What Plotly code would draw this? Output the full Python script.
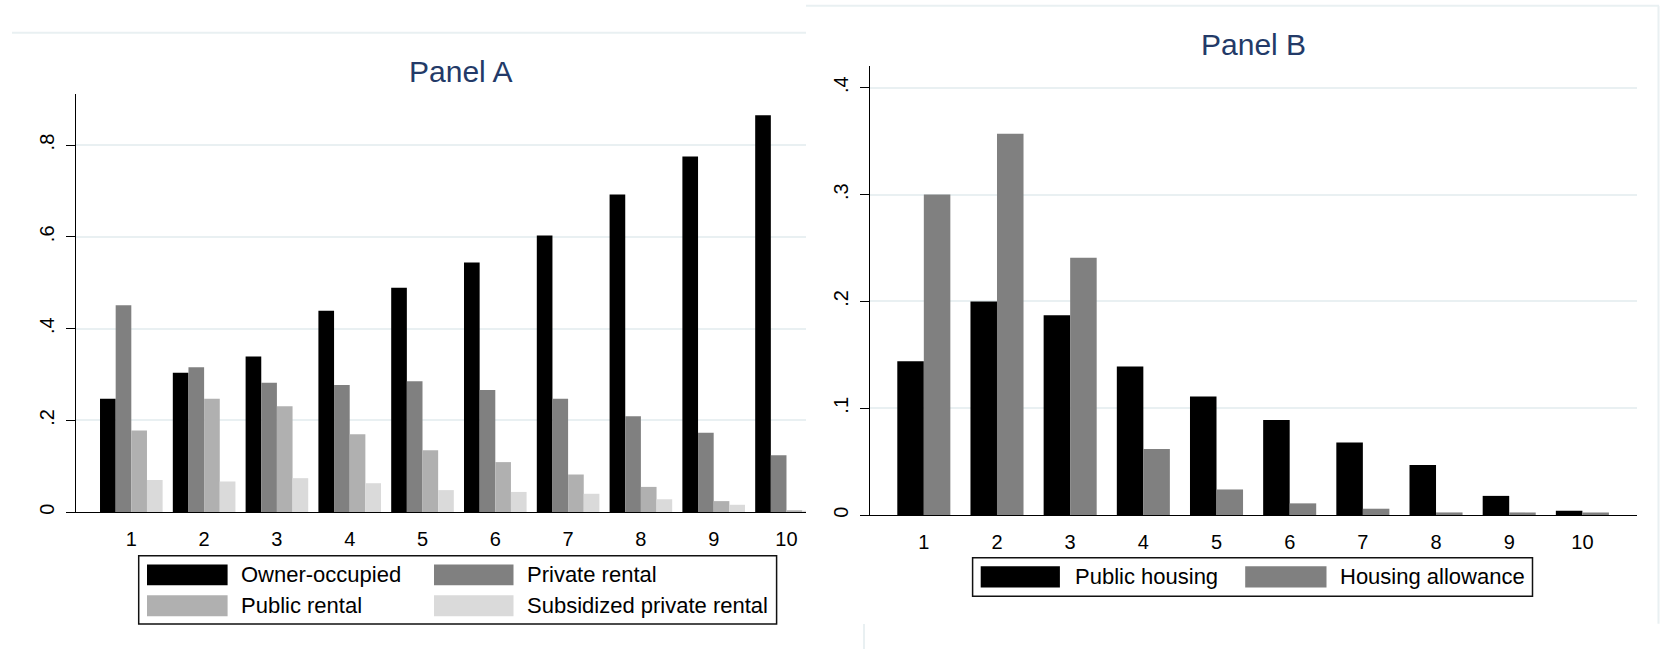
import plotly.graph_objects as go

# ---------------- data ----------------
deciles = [1, 2, 3, 4, 5, 6, 7, 8, 9, 10]
tick_labels = ["1", "2", "3", "4", "5", "6", "7", "8", "9", "10"]

owner_occupied = [0.247, 0.304, 0.339, 0.439, 0.489, 0.544, 0.603, 0.692, 0.775, 0.865]
private_rental = [0.451, 0.316, 0.282, 0.277, 0.285, 0.266, 0.247, 0.209, 0.173, 0.124]
public_rental = [0.178, 0.247, 0.231, 0.170, 0.135, 0.109, 0.082, 0.055, 0.024, 0.004]
subsidized_private = [0.070, 0.067, 0.074, 0.063, 0.048, 0.044, 0.040, 0.028, 0.016, 0.002]

public_housing = [0.144, 0.200, 0.187, 0.139, 0.111, 0.089, 0.068, 0.047, 0.018, 0.004]
housing_allowance = [0.300, 0.357, 0.241, 0.062, 0.024, 0.011, 0.006, 0.0025, 0.0025, 0.0025]

names_a = ["Owner-occupied", "Private rental", "Public rental", "Subsidized private rental"]
names_b = ["Public housing", "Housing allowance"]
ticks_a = [0, 0.2, 0.4, 0.6, 0.8]
ticktext_a = ["0", ".2", ".4", ".6", ".8"]
ticks_b = [0, 0.1, 0.2, 0.3, 0.4]
ticktext_b = ["0", ".1", ".2", ".3", ".4"]

# ---------------- style ----------------
W, H = 1660, 652
colors_a = ["#000000", "#808080", "#b0b0b0", "#dadada"]
colors_b = ["#000000", "#808080"]
GRID = "#e9f0f2"
TITLE_C = "#233a68"
FONT = "Liberation Sans, Arial, sans-serif"


def px_x(p):
    return p / W


def px_y(p):
    return (H - p) / H


fig = go.Figure()

series_a = [owner_occupied, private_rental, public_rental, subsidized_private]
wa = 0.215
for i, (nm, vals, c) in enumerate(zip(names_a, series_a, colors_a)):
    fig.add_trace(go.Bar(x=deciles, y=vals, name=nm, marker_color=c,
                         marker_line_width=0, width=wa, offset=-2 * wa + i * wa,
                         xaxis="x", yaxis="y", showlegend=False))

series_b = [public_housing, housing_allowance]
wb = 0.3625
for i, (nm, vals, c) in enumerate(zip(names_b, series_b, colors_b)):
    fig.add_trace(go.Bar(x=deciles, y=vals, name=nm, marker_color=c,
                         marker_line_width=0, width=wb, offset=-wb + i * wb,
                         xaxis="x2", yaxis="y2", showlegend=False))

axis_common_x = dict(tickmode="array", tickvals=deciles, ticktext=tick_labels,
                     showgrid=False, zeroline=False, showline=True, linecolor="#000",
                     linewidth=1, ticks="", ticklabelstandoff=9,
                     tickfont=dict(size=20, color="#000", family=FONT),
                     fixedrange=True)
axis_common_y = dict(showgrid=True, gridcolor=GRID, gridwidth=1.5, zeroline=False,
                     showline=True, linecolor="#000", linewidth=1, ticks="outside",
                     ticklen=9, tickcolor="#000", tickangle=-90, ticklabelstandoff=4,
                     tickfont=dict(size=20, color="#000", family=FONT), fixedrange=True)

fig.update_layout(
    width=W, height=H, margin=dict(l=0, r=0, t=0, b=0),
    paper_bgcolor="white", plot_bgcolor="white",
    barmode="overlay",
    font=dict(family=FONT, color="#000"),
    xaxis=dict(domain=[px_x(75.7), px_x(806)], range=[0.236, 10.268], anchor="y",
               **axis_common_x),
    yaxis=dict(domain=[px_y(514.5), px_y(94.3)], range=[0, 0.9115], anchor="x",
               tickmode="array", tickvals=ticks_a, ticktext=ticktext_a, **axis_common_y),
    xaxis2=dict(domain=[px_x(869.6), px_x(1636.6)], range=[0.259, 10.741], anchor="y2",
                **axis_common_x),
    yaxis2=dict(domain=[px_y(517.5), px_y(66.7)], range=[0, 0.420], anchor="x2",
                tickmode="array", tickvals=ticks_b, ticktext=ticktext_b, **axis_common_y),
)

shapes = []
annotations = []

# titles
annotations.append(dict(text="Panel A", x=px_x(460.6), y=px_y(72), xref="paper", yref="paper",
                        xanchor="center", yanchor="middle", showarrow=False,
                        font=dict(size=30, color=TITLE_C, family=FONT)))
annotations.append(dict(text="Panel B", x=px_x(1253.6), y=px_y(45), xref="paper", yref="paper",
                        xanchor="center", yanchor="middle", showarrow=False,
                        font=dict(size=30, color=TITLE_C, family=FONT)))


# graph-region border lines
def hline(x0, x1, y, color=GRID, w=2):
    shapes.append(dict(type="line", xref="paper", yref="paper", x0=px_x(x0), x1=px_x(x1),
                       y0=px_y(y), y1=px_y(y), line=dict(color=color, width=w)))


def vline(x, y0, y1, color=GRID, w=2):
    shapes.append(dict(type="line", xref="paper", yref="paper", x0=px_x(x), x1=px_x(x),
                       y0=px_y(y0), y1=px_y(y1), line=dict(color=color, width=w)))


hline(12, 806, 33)
hline(806, 1659, 5.7)
vline(1658.5, 5.7, 626.7)
vline(864, 627, 652)


def rect(x0, y0, x1, y1, fill=None, line_color=None, lw=0):
    d = dict(type="rect", xref="paper", yref="paper", x0=px_x(x0), x1=px_x(x1),
             y0=px_y(y1), y1=px_y(y0), layer="above")
    d["fillcolor"] = fill if fill else "rgba(0,0,0,0)"
    d["line"] = dict(color=line_color or "rgba(0,0,0,0)", width=lw)
    shapes.append(d)


def label(text, x, y):
    annotations.append(dict(text=text, x=px_x(x), y=px_y(y), xref="paper", yref="paper",
                            xanchor="left", yanchor="middle", showarrow=False,
                            font=dict(size=22, color="#000", family=FONT)))


# legend Panel A
rect(138.7, 558.3, 776.6, 627, line_color="#111", lw=1.5)
leg_a_pos = [(147, 567, 227.6, 588, 239, 577.5),
             (434, 567, 513.5, 588, 525, 577.5),
             (147, 598, 227.6, 619, 239, 608),
             (434, 598, 513.5, 619, 525, 608)]
for nm, c, (x0, y0, x1, y1, tx, ty) in zip(names_a, colors_a, leg_a_pos):
    rect(x0, y0, x1, y1, fill=c)
    label(nm, tx, ty)

# legend Panel B
rect(972.6, 560.4, 1532.5, 599, line_color="#111", lw=1.5)
leg_b_pos = [(980.7, 568.8, 1059.9, 590.3, 1072.5, 579.5),
             (1245.2, 568.8, 1326.5, 590.3, 1337.5, 579.5)]
for nm, c, (x0, y0, x1, y1, tx, ty) in zip(names_b, colors_b, leg_b_pos):
    rect(x0, y0, x1, y1, fill=c)
    label(nm, tx, ty)

fig.update_layout(shapes=shapes, annotations=annotations)

fig.write_html("out.html", config={"displayModeBar": False},
               post_script="document.body.style.margin='0';document.body.style.overflow='hidden';")
